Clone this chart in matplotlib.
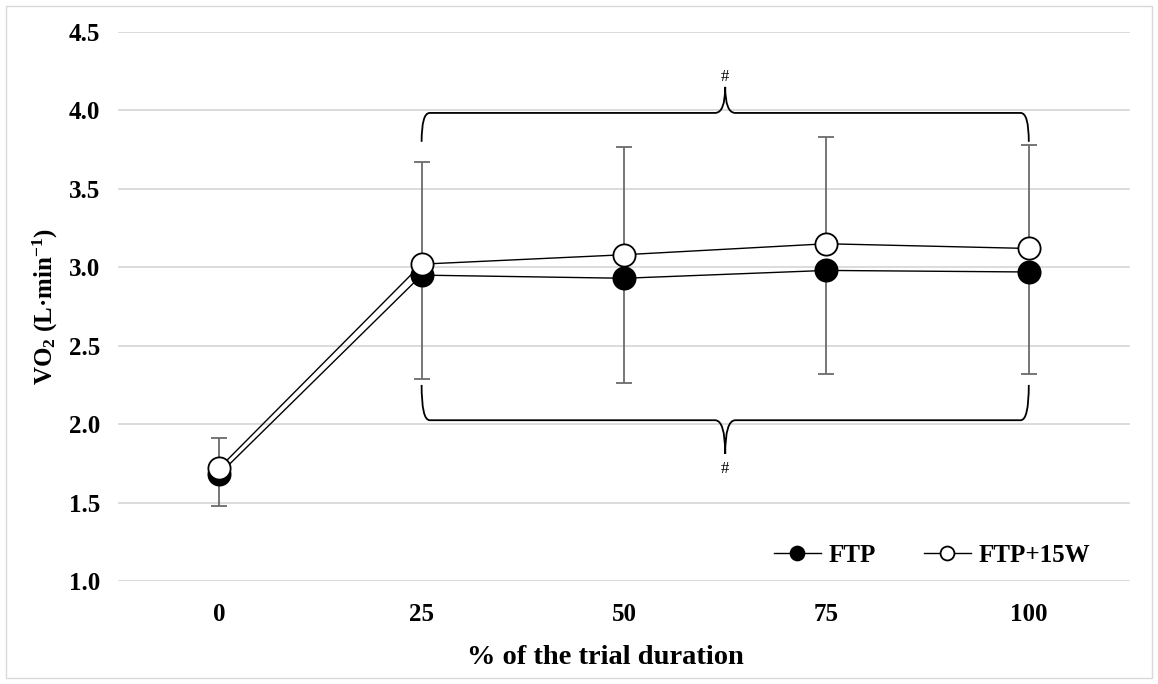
import matplotlib
matplotlib.use("Agg")
import matplotlib.pyplot as plt
import numpy as np
from matplotlib.path import Path
from matplotlib.patches import PathPatch, Rectangle
from matplotlib.lines import Line2D

# ---- data ----
categories = ["0", "25", "50", "75", "100"]
ftp = [1.68, 2.95, 2.93, 2.98, 2.97]
ftp15 = [1.72, 3.02, 3.08, 3.15, 3.12]
ftp_err_low = [0.20, 0.66, 0.67, 0.66, 0.65]
ftp15_err_up = [0.19, 0.65, 0.69, 0.68, 0.66]
y_ticks = [1.0, 1.5, 2.0, 2.5, 3.0, 3.5, 4.0, 4.5]
series_names = ["FTP", "FTP+15W"]
x_label = "% of the trial duration"
y_label = r"VO$_2$ (L·min$^{\mathrm{-1}}$)"
sig_mark = "#"

plt.rcParams['font.family'] = ['Liberation Serif', 'DejaVu Serif']
plt.rcParams['mathtext.fontset'] = 'custom'
plt.rcParams['mathtext.rm'] = 'Liberation Serif:bold'
plt.rcParams['mathtext.it'] = 'Liberation Serif:bold'
plt.rcParams['mathtext.bf'] = 'Liberation Serif:bold'

fig = plt.figure(figsize=(11.58, 6.84), dpi=100)
fig.patches.append(Rectangle((6/1158, 6/684), 1146/1158, 672/684, transform=fig.transFigure,
                             fill=False, edgecolor='#d9d9d9', linewidth=1.0))
ax = fig.add_axes([118/1158, 103/684, 1012/1158, (581-32)/684])

x = np.arange(len(categories))

# error bars
ax.errorbar(x, ftp15, yerr=[np.zeros(len(x)), ftp15_err_up], fmt='none', ecolor='#6b6b6b',
            elinewidth=1.3, capsize=6, capthick=1.3, zorder=2)
ax.errorbar(x, ftp, yerr=[ftp_err_low, np.zeros(len(x))], fmt='none', ecolor='#6b6b6b',
            elinewidth=1.3, capsize=6, capthick=1.3, zorder=2)

ax.plot(x, ftp, color='black', lw=1.0, marker='o', ms=16, mfc='black', mec='black',
        mew=1.3, zorder=3)
ax.plot(x, ftp15, color='black', lw=1.0, marker='o', ms=16, mfc='white', mec='black',
        mew=1.3, zorder=4)

ax.set_xlim(-0.5, len(categories) - 0.5)
ax.set_ylim(y_ticks[0], y_ticks[-1])
ax.set_xticks(x)
ax.set_xticklabels(categories)
ax.set_yticks(y_ticks)
ax.set_yticklabels([f"{v:.1f}" for v in y_ticks])
ax.tick_params(length=0, labelsize=18)
for lab in ax.get_xticklabels() + ax.get_yticklabels():
    lab.set_fontweight('bold')
ax.tick_params(axis='y', pad=13)
ax.tick_params(axis='x', pad=16)
ax.grid(axis='y', color='#d9d9d9', lw=1.3)
ax.set_axisbelow(True)
for s in ax.spines.values():
    s.set_visible(False)

ax.set_xlabel(x_label, fontsize=20.5, fontweight='bold')
ax.xaxis.set_label_coords((605 - 118) / 1012, -0.117)
ax.set_ylabel(y_label, fontsize=18, fontweight='bold', labelpad=6)


def bracket(ax, x0, x1, y_end, y_bar, y_tip, rx=0.04, sw=0.025):
    xc = (x0 + x1) / 2
    verts = [
        (x0, y_end), (x0, y_bar), (x0 + rx, y_bar),
        (xc - sw * 2, y_bar), (xc, y_bar), (xc, y_tip),
        (xc, y_bar), (xc + sw * 2, y_bar),
        (x1 - rx, y_bar), (x1, y_bar), (x1, y_end),
    ]
    codes = [Path.MOVETO, Path.CURVE3, Path.CURVE3,
             Path.LINETO, Path.CURVE3, Path.CURVE3,
             Path.CURVE3, Path.CURVE3,
             Path.LINETO, Path.CURVE3, Path.CURVE3]
    ax.add_patch(PathPatch(Path(verts, codes), fill=False, edgecolor='black', lw=1.3,
                           zorder=5, clip_on=False))


bracket(ax, 1.0, 4.0, 3.80, 3.984, 4.15)
bracket(ax, 1.0, 4.0, 2.25, 2.025, 1.81)
ax.text(2.5, 4.215, sig_mark, ha='center', va='center', fontsize=12)
ax.text(2.5, 1.715, sig_mark, ha='center', va='center', fontsize=12)

handles = [
    Line2D([], [], color='black', lw=1.0, marker='o', ms=10, mfc='black', mec='black', mew=1.3),
    Line2D([], [], color='black', lw=1.0, marker='o', ms=10, mfc='white', mec='black', mew=1.3),
]
leg = ax.legend(handles, series_names, loc='center right', bbox_to_anchor=(0.973, 0.047),
                ncol=2, frameon=False, handlelength=1.9, handletextpad=0.3, columnspacing=1.9,
                borderpad=0, prop={'weight': 'bold', 'size': 18})

fig.savefig("out.png", dpi=100)
